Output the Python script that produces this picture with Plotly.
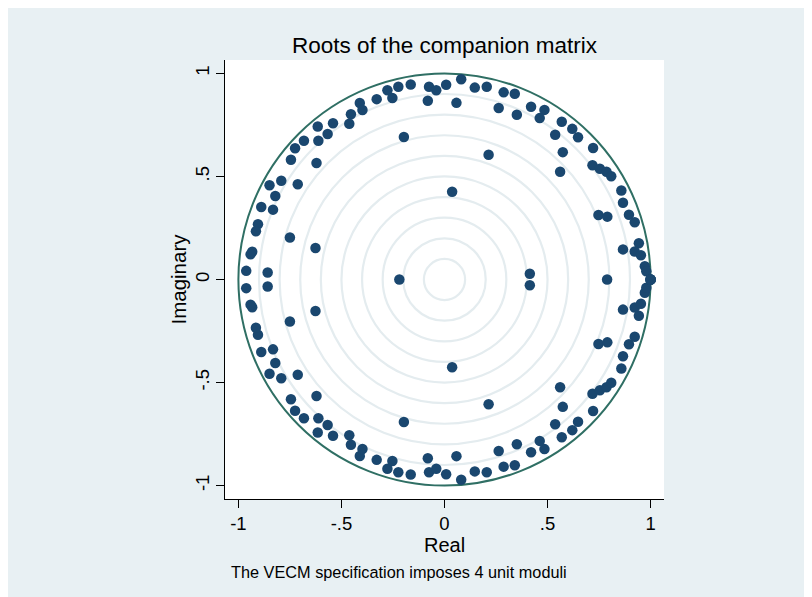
import plotly.graph_objects as go

# Complex roots (upper half-plane)
re_upper = [-0.164, -0.224, -0.277, -0.253, -0.329, -0.411, -0.398, -0.454, -0.462, -0.541,
            -0.615, -0.567, -0.612, -0.682, -0.725, -0.745, -0.621, -0.197, -0.792, -0.849,
            -0.712, -0.821, -0.889, -0.832, -0.905, -0.915, -0.750, -0.933, -0.941, -0.626,
            -0.962, -0.858, -0.075, -0.040, -0.081, 0.008, 0.081, 0.058, 0.147, 0.205,
            0.287, 0.341, 0.263, 0.351, 0.420, 0.485, 0.462, 0.569, 0.620, 0.648,
            0.537, 0.574, 0.561, 0.721, 0.718, 0.754, 0.786, 0.809, 0.214, 0.037,
            0.858, 0.866, 0.895, 0.923, 0.747, 0.790, 0.943, 0.866, 0.923, 0.953,
            0.972, 0.979, 0.414]
im_upper = [0.946, 0.935, 0.918, 0.881, 0.875, 0.856, 0.822, 0.802, 0.756, 0.758,
            0.742, 0.706, 0.673, 0.673, 0.637, 0.581, 0.565, 0.691, 0.479, 0.457,
            0.462, 0.405, 0.352, 0.339, 0.268, 0.234, 0.204, 0.135, 0.122, 0.153,
            0.042, 0.034, 0.935, 0.918, 0.867, 0.945, 0.972, 0.857, 0.931, 0.935,
            0.908, 0.901, 0.832, 0.799, 0.838, 0.823, 0.783, 0.765, 0.731, 0.690,
            0.702, 0.618, 0.523, 0.638, 0.554, 0.537, 0.523, 0.501, 0.605, 0.426,
            0.432, 0.372, 0.314, 0.278, 0.313, 0.305, 0.176, 0.146, 0.136, 0.118,
            0.064, 0.040, 0.028]
# Conjugate roots (lower half-plane)
re_lower = list(re_upper)
im_lower = [-0.946, -0.935, -0.918, -0.881, -0.875, -0.856, -0.822, -0.802, -0.756, -0.758,
            -0.742, -0.706, -0.673, -0.673, -0.637, -0.581, -0.565, -0.691, -0.479, -0.457,
            -0.462, -0.405, -0.352, -0.339, -0.268, -0.234, -0.204, -0.135, -0.122, -0.153,
            -0.042, -0.034, -0.935, -0.918, -0.867, -0.945, -0.972, -0.857, -0.931, -0.935,
            -0.908, -0.901, -0.832, -0.799, -0.838, -0.823, -0.783, -0.765, -0.731, -0.690,
            -0.702, -0.618, -0.523, -0.638, -0.554, -0.537, -0.523, -0.501, -0.605, -0.426,
            -0.432, -0.372, -0.314, -0.278, -0.313, -0.305, -0.176, -0.146, -0.136, -0.118,
            -0.064, -0.040, -0.028]
# Real roots
re_real = [-0.219, 0.789, 1.0, 1.0, 1.0, 1.0]
im_real = [0.0, 0.0, 0.0, 0.0, 0.0, 0.0]

grid_radii = [0.1, 0.2, 0.3, 0.4, 0.5, 0.6, 0.7, 0.8, 0.9]
tick_vals = [-1, -0.5, 0, 0.5, 1]
tick_text = ["-1", "-.5", "0", ".5", "1"]

BG = "rgb(232,240,243)"
GRID = "rgb(228,236,239)"
NAVY = "#1a476f"
UNIT = "#2f6f64"
FONT = "Liberation Sans, Arial, sans-serif"

fig = go.Figure()
fig.add_trace(go.Scatter(
    x=re_upper + re_lower + re_real,
    y=im_upper + im_lower + im_real,
    mode="markers",
    marker=dict(color=NAVY, size=10.5, line=dict(width=0)),
    showlegend=False, hoverinfo="x+y"))

shapes = []
for r in grid_radii:
    shapes.append(dict(type="circle", xref="x", yref="y", x0=-r, x1=r, y0=-r, y1=r,
                       line=dict(color=GRID, width=2.2), layer="below"))
shapes.append(dict(type="circle", xref="x", yref="y", x0=-1, x1=1, y0=-1, y1=1,
                   line=dict(color=UNIT, width=2), layer="below"))

axis_common = dict(range=[-1.065, 1.065], showgrid=False, zeroline=False,
                   showline=True, linecolor="black", linewidth=1,
                   ticks="outside", ticklen=8, tickcolor="black", tickwidth=1,
                   tickvals=tick_vals, ticktext=tick_text,
                   tickfont=dict(family=FONT, size=18.5, color="black"),
                   fixedrange=True)

fig.update_layout(
    width=820, height=605, autosize=False,
    margin=dict(l=217, r=164, t=52, b=114, pad=0),
    paper_bgcolor=BG, plot_bgcolor="white",
    font=dict(family=FONT, color="black"),
    xaxis=dict(**axis_common),
    yaxis=dict(**axis_common, tickangle=-90),
    shapes=shapes,
    title=dict(text="Roots of the companion matrix", x=0.5, xref="paper",
               y=1 - 37 / 605, yref="container", yanchor="middle", xanchor="center",
               font=dict(family=FONT, size=22.5, color="black")),
    annotations=[
        dict(text="Imaginary", xref="paper", yref="paper", x=-0.107, y=0.5,
             textangle=-90, showarrow=False, xanchor="center", yanchor="middle",
             font=dict(family=FONT, size=20.5, color="black")),
        dict(text="Real", xref="paper", yref="paper", x=0.5, y=-0.1045,
             showarrow=False, xanchor="center", yanchor="middle",
             font=dict(family=FONT, size=20, color="black")),
        dict(text="The VECM specification imposes 4 unit moduli", xref="paper", yref="paper",
             x=0.009, y=-0.166, showarrow=False, xanchor="left", yanchor="middle",
             font=dict(family=FONT, size=16.3, color="black")),
    ],
)

fig.write_html("out.html")
